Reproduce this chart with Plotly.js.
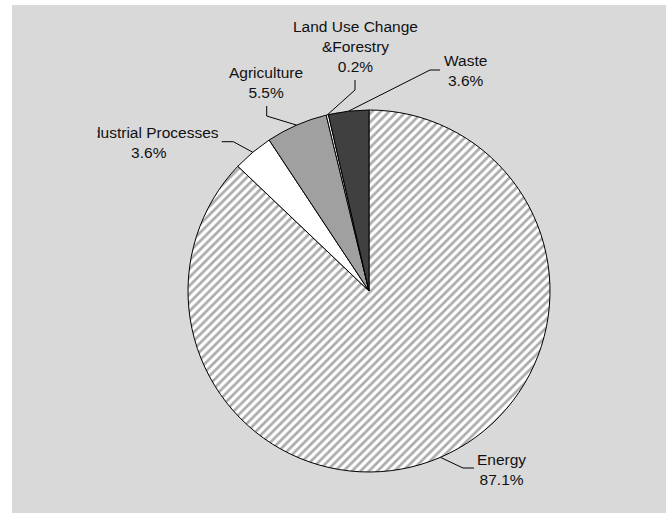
<!DOCTYPE html>
<html>
<head>
<meta charset="utf-8">
<script src="https://cdn.plot.ly/plotly-3.0.1.min.js"></script>
<style>html,body{margin:0;padding:0;background:#fff;}#chart{width:671px;height:513px;}</style>
</head>
<body>
<div id="chart"></div>
<script>
// ---- data ----
const categories = ['Energy', 'Industrial Processes', 'Agriculture', 'Land Use Change<br>&Forestry', 'Waste'];
const values = [87.1, 3.6, 5.5, 0.2, 3.6];
const percentLabels = ['87.1%', '3.6%', '5.5%', '0.2%', '3.6%'];

// ---- styles / layout constants ----
const W = 671, H = 513;
const sliceColors = ['#ffffff', '#ffffff', '#a0a0a0', '#ffffff', '#404040'];
const slicePatterns = ['/', '', '', '', ''];
const pieCenter = [369, 291];
const pieRadius = 181;
// label block centers (px) and leader-line bend/end points (px)
const labelPos = [[501, 469.5], [148.7, 143], [266, 82.5], [355, 46], [465, 71]];
const leaderBend = [[[463, 468], [474, 468]], [[233.3, 141.7], [221.7, 141.7]], [[266.7, 116], [266.7, 106]], [[355, 90], [355, 80]], [[430, 70], [440, 70]]];

const px = x => x / W;
const py = y => 1 - y / H;

const total = values.reduce((a, b) => a + b, 0);
const shapes = [{
  type: 'rect', xref: 'paper', yref: 'paper', layer: 'below',
  x0: px(12), x1: px(666), y0: py(513), y1: py(5),
  fillcolor: '#d9d9d9', line: {width: 0}
}];
const annotations = [];
let cum = 0;
values.forEach((v, i) => {
  const mid = (cum + v / 2) / total * 2 * Math.PI; // clockwise from top
  cum += v;
  const ex = pieCenter[0] + pieRadius * Math.sin(mid);
  const ey = pieCenter[1] - pieRadius * Math.cos(mid);
  const pts = [[ex, ey]].concat(leaderBend[i]);
  const path = pts.map((p, k) => (k ? 'L' : 'M') + px(p[0]) + ',' + py(p[1])).join(' ');
  shapes.push({type: 'path', xref: 'paper', yref: 'paper', path: path, line: {color: '#000', width: 1}});
  annotations.push({
    xref: 'paper', yref: 'paper', x: px(labelPos[i][0]), y: py(labelPos[i][1]),
    xanchor: 'center', yanchor: 'middle', showarrow: false, align: 'center',
    text: categories[i] + '<br>' + percentLabels[i],
    font: {family: 'Liberation Sans, Arial, sans-serif', size: 15.5, color: '#111'}
  });
});
// the reference clips the left label at the chart-area edge
annotations.push({
  xref: 'paper', yref: 'paper', x: px(98), y: py(133), xanchor: 'right', yanchor: 'middle',
  showarrow: false, text: ' ', bgcolor: '#d9d9d9', width: 30, height: 20,
  font: {size: 15.5}
});

const trace = {
  type: 'pie',
  labels: categories,
  values: values,
  sort: false,
  direction: 'clockwise',
  rotation: 0,
  textinfo: 'none',
  hoverinfo: 'label+percent',
  showlegend: false,
  domain: {
    x: [px(pieCenter[0] - pieRadius), px(pieCenter[0] + pieRadius)],
    y: [py(pieCenter[1] + pieRadius), py(pieCenter[1] - pieRadius)]
  },
  marker: {
    colors: sliceColors,
    line: {color: '#000', width: 1},
    pattern: {shape: slicePatterns, fgcolor: '#ababab', bgcolor: '#ffffff', size: 6, solidity: 0.45}
  }
};

const layout = {
  width: W, height: H,
  margin: {l: 0, r: 0, t: 0, b: 0},
  paper_bgcolor: '#ffffff',
  showlegend: false,
  shapes: shapes,
  annotations: annotations
};

Plotly.newPlot('chart', [trace], layout, {displayModeBar: false, staticPlot: true});
</script>
</body>
</html>
